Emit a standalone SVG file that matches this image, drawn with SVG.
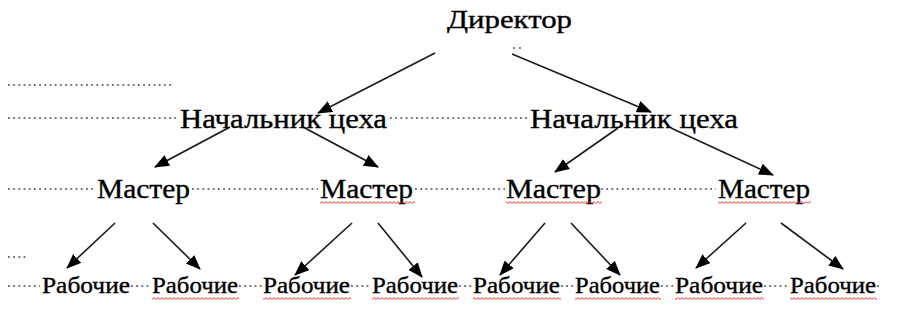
<svg xmlns="http://www.w3.org/2000/svg" width="898" height="334" viewBox="0 0 898 334">
<style>
text{font-family:"Liberation Serif","DejaVu Serif",serif;fill:#000;stroke:#000;stroke-width:0.35px;}
.t1{font-size:25px;}
.t2{font-size:27px;}
.t3{font-size:27px;}
.t4{font-size:22.5px;}
.dots{stroke:#3c4660;stroke-width:1.6;stroke-dasharray:1.8 3.4;fill:none;}
.arr{stroke:#1a1a1a;stroke-width:1.6;fill:none;marker-end:url(#ah);}
.sq{fill:url(#wave);}
</style>
<defs>
<marker id="ah" markerUnits="userSpaceOnUse" markerWidth="15" markerHeight="12" refX="14" refY="6" orient="auto">
<path d="M0,0 L15,6 L0,12 z" fill="#000"/>
</marker>
<pattern id="wave" patternUnits="userSpaceOnUse" width="4" height="3">
<path d="M0,2.4 L2,0.6 L4,2.4" stroke="#e02020" stroke-width="0.9" fill="none"/>
</pattern>
</defs>
<rect width="898" height="334" fill="#fff"/>
<g id="leaders">
<path class="dots" d="M8,85 H172"/>
<path class="dots" d="M8,118 H178 M390,118 H528"/>
<path class="dots" d="M8,189 H95 M192,189 H318 M415,189 H505 M601,189 H716"/>
<path class="dots" d="M8,257 H27"/>
<path class="dots" d="M8,286 H40 M131,286 H151 M239,286 H262 M351,286 H371 M459,286 H472 M561,286 H574 M661,286 H674 M764,286 H789 M877,286 H882"/>
<circle cx="514" cy="48" r="0.9" fill="#3c4660"/>
<circle cx="520" cy="48" r="0.9" fill="#3c4660"/>
</g>
<g id="connectors">
<line class="arr" x1="435" y1="53" x2="318" y2="113"/>
<line class="arr" x1="512" y1="54" x2="651" y2="112"/>
<line class="arr" x1="230" y1="127" x2="155" y2="167"/>
<line class="arr" x1="303" y1="127" x2="378" y2="167"/>
<line class="arr" x1="618" y1="128" x2="555" y2="172"/>
<line class="arr" x1="671" y1="128" x2="773" y2="175"/>
<line class="arr" x1="115" y1="223" x2="67" y2="268"/>
<line class="arr" x1="153" y1="223" x2="200" y2="269"/>
<line class="arr" x1="352" y1="223" x2="295" y2="275"/>
<line class="arr" x1="378" y1="223" x2="422" y2="277"/>
<line class="arr" x1="545" y1="223" x2="500" y2="275"/>
<line class="arr" x1="571" y1="223" x2="620" y2="275"/>
<line class="arr" x1="746" y1="223" x2="696" y2="268"/>
<line class="arr" x1="781" y1="223" x2="843" y2="269"/>
</g>
<g id="director"><text class="t1" x="447" y="28" textLength="125" lengthAdjust="spacingAndGlyphs">Директор</text></g>
<g id="chief1"><text class="t2" x="180" y="128" textLength="207" lengthAdjust="spacingAndGlyphs">Начальник цеха</text></g>
<g id="chief2"><text class="t2" x="530" y="128" textLength="208" lengthAdjust="spacingAndGlyphs">Начальник цеха</text></g>
<g id="master1"><text class="t3" x="97" y="198" textLength="93" lengthAdjust="spacingAndGlyphs">Мастер</text></g>
<g id="master2"><text class="t3" x="320" y="198" textLength="93" lengthAdjust="spacingAndGlyphs">Мастер</text><rect class="sq" x="320" y="201" width="95" height="3"/></g>
<g id="master3"><text class="t3" x="506" y="198" textLength="95" lengthAdjust="spacingAndGlyphs">Мастер</text><rect class="sq" x="506" y="201" width="96" height="3"/></g>
<g id="master4"><text class="t3" x="718" y="198" textLength="92" lengthAdjust="spacingAndGlyphs">Мастер</text><rect class="sq" x="718" y="201" width="93" height="3"/></g>
<g id="worker1"><text class="t4" x="42" y="293" textLength="88" lengthAdjust="spacingAndGlyphs">Рабочие</text></g>
<g id="worker2"><text class="t4" x="152" y="293" textLength="86" lengthAdjust="spacingAndGlyphs">Рабочие</text><rect class="sq" x="152" y="297" width="87" height="3"/></g>
<g id="worker3"><text class="t4" x="263" y="293" textLength="87" lengthAdjust="spacingAndGlyphs">Рабочие</text><rect class="sq" x="263" y="297" width="88" height="3"/></g>
<g id="worker4"><text class="t4" x="372" y="293" textLength="86" lengthAdjust="spacingAndGlyphs">Рабочие</text><rect class="sq" x="372" y="297" width="87" height="3"/></g>
<g id="worker5"><text class="t4" x="473" y="293" textLength="87" lengthAdjust="spacingAndGlyphs">Рабочие</text><rect class="sq" x="473" y="297" width="88" height="3"/></g>
<g id="worker6"><text class="t4" x="575" y="293" textLength="85" lengthAdjust="spacingAndGlyphs">Рабочие</text><rect class="sq" x="575" y="297" width="86" height="3"/></g>
<g id="worker7"><text class="t4" x="675" y="293" textLength="88" lengthAdjust="spacingAndGlyphs">Рабочие</text><rect class="sq" x="675" y="297" width="89" height="3"/></g>
<g id="worker8"><text class="t4" x="790" y="293" textLength="86" lengthAdjust="spacingAndGlyphs">Рабочие</text><rect class="sq" x="790" y="297" width="87" height="3"/></g>
</svg>
